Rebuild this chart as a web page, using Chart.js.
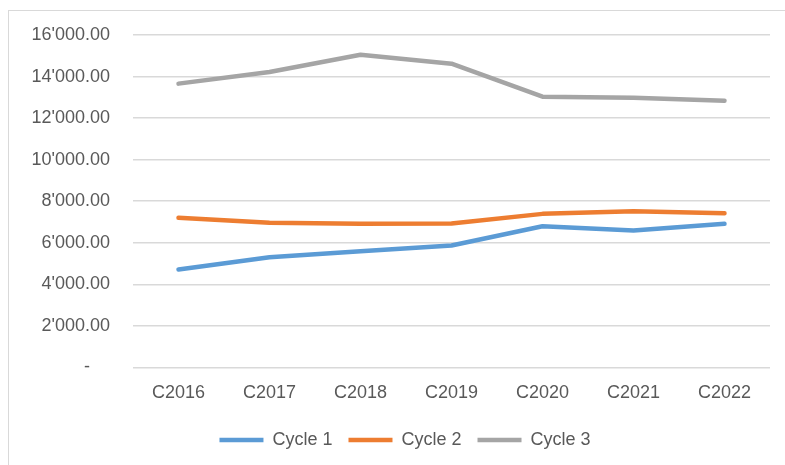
<!DOCTYPE html>
<html>
<head>
<meta charset="utf-8">
<script src="https://cdn.jsdelivr.net/npm/chart.js@4"></script>
<style>
  body { margin: 0; background: #fff; }
  #wrap { position: relative; width: 785px; height: 465px; overflow: hidden; }
  #frame { position: absolute; left: 8px; top: 10px; width: 800px; height: 480px; border: 1px solid #d9d9d9; }
  #cycles-chart { position: absolute; left: 0; top: 0; }
</style>
</head>
<body>
<div id="wrap">
  <div id="frame"></div>
  <canvas id="cycles-chart" width="785" height="465"></canvas>
</div>
<script>
// categories and series
const categories = ["C2016", "C2017", "C2018", "C2019", "C2020", "C2021", "C2022"];
const cycle1 = [4710, 5300, 5590, 5865, 6795, 6590, 6910];
const cycle2 = [7200, 6960, 6910, 6925, 7390, 7520, 7420];
const cycle3 = [13660, 14220, 15050, 14620, 13030, 12985, 12840];
const yTicks = [0, 2000, 4000, 6000, 8000, 10000, 12000, 14000, 16000];

const seriesNames = ["Cycle 1", "Cycle 2", "Cycle 3"];
const seriesColors = ["#5B9BD5", "#ED7D31", "#A5A5A5"];

function fmt(v) {
    if (v === 0) return "-    ";
    return String(v).replace(/\B(?=(\d{3})+(?!\d))/g, "'") + ".00";
}

const font = { family: "'Liberation Sans', Arial, sans-serif", size: 18 };

// nudge the legend a bit, like in the original
const legendShift = {
    id: "legendShift",
    afterLayout(chart) {
        chart.legend.left += 20;
        chart.legend.right += 20;
        chart.legend.top -= 4;
        chart.legend.bottom -= 4;
    },
};

const ctx = document.getElementById("cycles-chart").getContext("2d");
new Chart(ctx, {
    type: "line",
    data: {
        labels: categories,
        datasets: [cycle1, cycle2, cycle3].map((d, i) => ({
            label: seriesNames[i],
            data: d,
            borderColor: seriesColors[i],
            backgroundColor: seriesColors[i],
            borderWidth: 4.5,
            borderCapStyle: "round",
            borderJoinStyle: "round",
            pointRadius: 0,
            pointStyle: "line",
            tension: 0,
        })),
    },
    plugins: [legendShift],
    options: {
        responsive: false,
        animation: false,
        layout: { padding: { left: 0, right: 15, top: 35, bottom: 2 } },
        plugins: {
            tooltip: { enabled: false },
            legend: {
                position: "bottom",
                labels: {
                    usePointStyle: true,
                    pointStyleWidth: 44,
                    color: "#595959",
                    font: font,
                    padding: 16,
                },
            },
        },
        scales: {
            x: {
                offset: true,
                grid: { display: false, drawTicks: false },
                border: { display: false },
                ticks: { color: "#595959", font: font, padding: 15 },
            },
            y: {
                min: 0,
                max: 16000,
                afterBuildTicks: (s) => { s.ticks = yTicks.map(v => ({ value: v })); },
                afterFit: (s) => { s.width = 133; },
                grid: { color: "#d9d9d9", lineWidth: 1.5, drawTicks: false },
                border: { display: false },
                ticks: { color: "#595959", font: font, padding: 23, callback: fmt },
            },
        },
    },
});
</script>
</body>
</html>
